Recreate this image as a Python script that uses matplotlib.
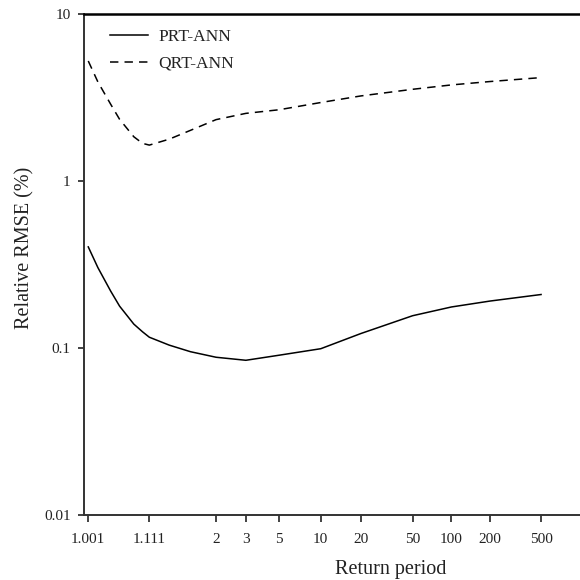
import numpy as np
import matplotlib

matplotlib.use("Agg")
import matplotlib.pyplot as plt
from matplotlib.ticker import NullLocator

# Return periods (years) and relative RMSE (%)
return_periods = [1.001, 1.003, 1.01, 1.02, 1.05, 1.08, 1.111, 1.25, 1.5, 2, 3, 5, 10, 20, 50, 100, 200, 500]
prt_ann = [0.403, 0.303, 0.219, 0.178, 0.139, 0.125, 0.116, 0.104, 0.095, 0.088, 0.0844, 0.0905, 0.099, 0.122, 0.156, 0.176, 0.191, 0.209]
qrt_ann = [5.23, 3.92, 2.88, 2.34, 1.84, 1.68, 1.64, 1.78, 2.01, 2.33, 2.54, 2.67, 2.95, 3.23, 3.54, 3.76, 3.94, 4.16]

tick_periods = [1.001, 1.111, 2, 3, 5, 10, 20, 50, 100, 200, 500]
tick_labels = ["1.001", "1.111", "2", "3", "5", "10", "20", "50", "100", "200", "500"]
y_ticks = [0.01, 0.1, 1, 10]
y_labels = ["0.01", "0.1", "1", "10"]


def _gumbel(t):
    """Gumbel reduced variate for return period t."""
    t = np.clip(np.asarray(t, dtype=float), 1.0 + 1e-9, None)
    return -np.log(-np.log(1.0 - 1.0 / t))


def _gumbel_inv(y):
    """Return period for Gumbel reduced variate y."""
    y = np.asarray(y, dtype=float)
    return 1.0 / (1.0 - np.exp(-np.exp(-y)))


plt.rcParams["font.family"] = ["Liberation Serif", "DejaVu Serif"]
text_color = "#222222"

fig = plt.figure(figsize=(5.8, 5.8), dpi=100)
ax = fig.add_axes([0.1448, 0.1121, 0.8552, 0.8638])

ax.plot(return_periods, prt_ann, color="black", lw=1.1, label="PRT-ANN")
ax.plot(return_periods, qrt_ann, color="black", lw=1.1, linestyle=(0, (5.5, 4)), label="QRT-ANN")

ax.set_xscale("function", functions=(_gumbel, _gumbel_inv))
ax.set_yscale("log")
ax.set_xlim(1.000575, 1007)
ax.set_ylim(0.01, 10)

ax.set_xticks(tick_periods, tick_labels)
ax.set_yticks(y_ticks, y_labels)
ax.xaxis.set_minor_locator(NullLocator())
ax.yaxis.set_minor_locator(NullLocator())
ax.tick_params(axis="both", direction="out", labelsize=11, colors=text_color, width=1.2)
ax.tick_params(axis="x", length=5, pad=8)
ax.tick_params(axis="y", length=4.5, pad=5)

ax.spines["right"].set_visible(False)
ax.spines["top"].set_color("black")
ax.spines["top"].set_linewidth(1.8)
for side in ["left", "bottom"]:
    ax.spines[side].set_color("#333333")
    ax.spines[side].set_linewidth(1.4)

ax.set_xlabel("Return period", fontsize=14.5, color=text_color)
ax.set_ylabel("Relative RMSE (%)", fontsize=14.5, color=text_color)
ax.xaxis.set_label_coords(0.619, -0.09)
ax.yaxis.set_label_coords(-0.10, 0.534)

leg = ax.legend(
    loc="upper left",
    bbox_to_anchor=(0.052, 0.97),
    frameon=False,
    fontsize=12.5,
    handlelength=2.2,
    handletextpad=0.6,
    labelspacing=0.6,
    borderpad=0,
    borderaxespad=0,
)
for t in leg.get_texts():
    t.set_color(text_color)

fig.savefig("out.png", dpi=100)
